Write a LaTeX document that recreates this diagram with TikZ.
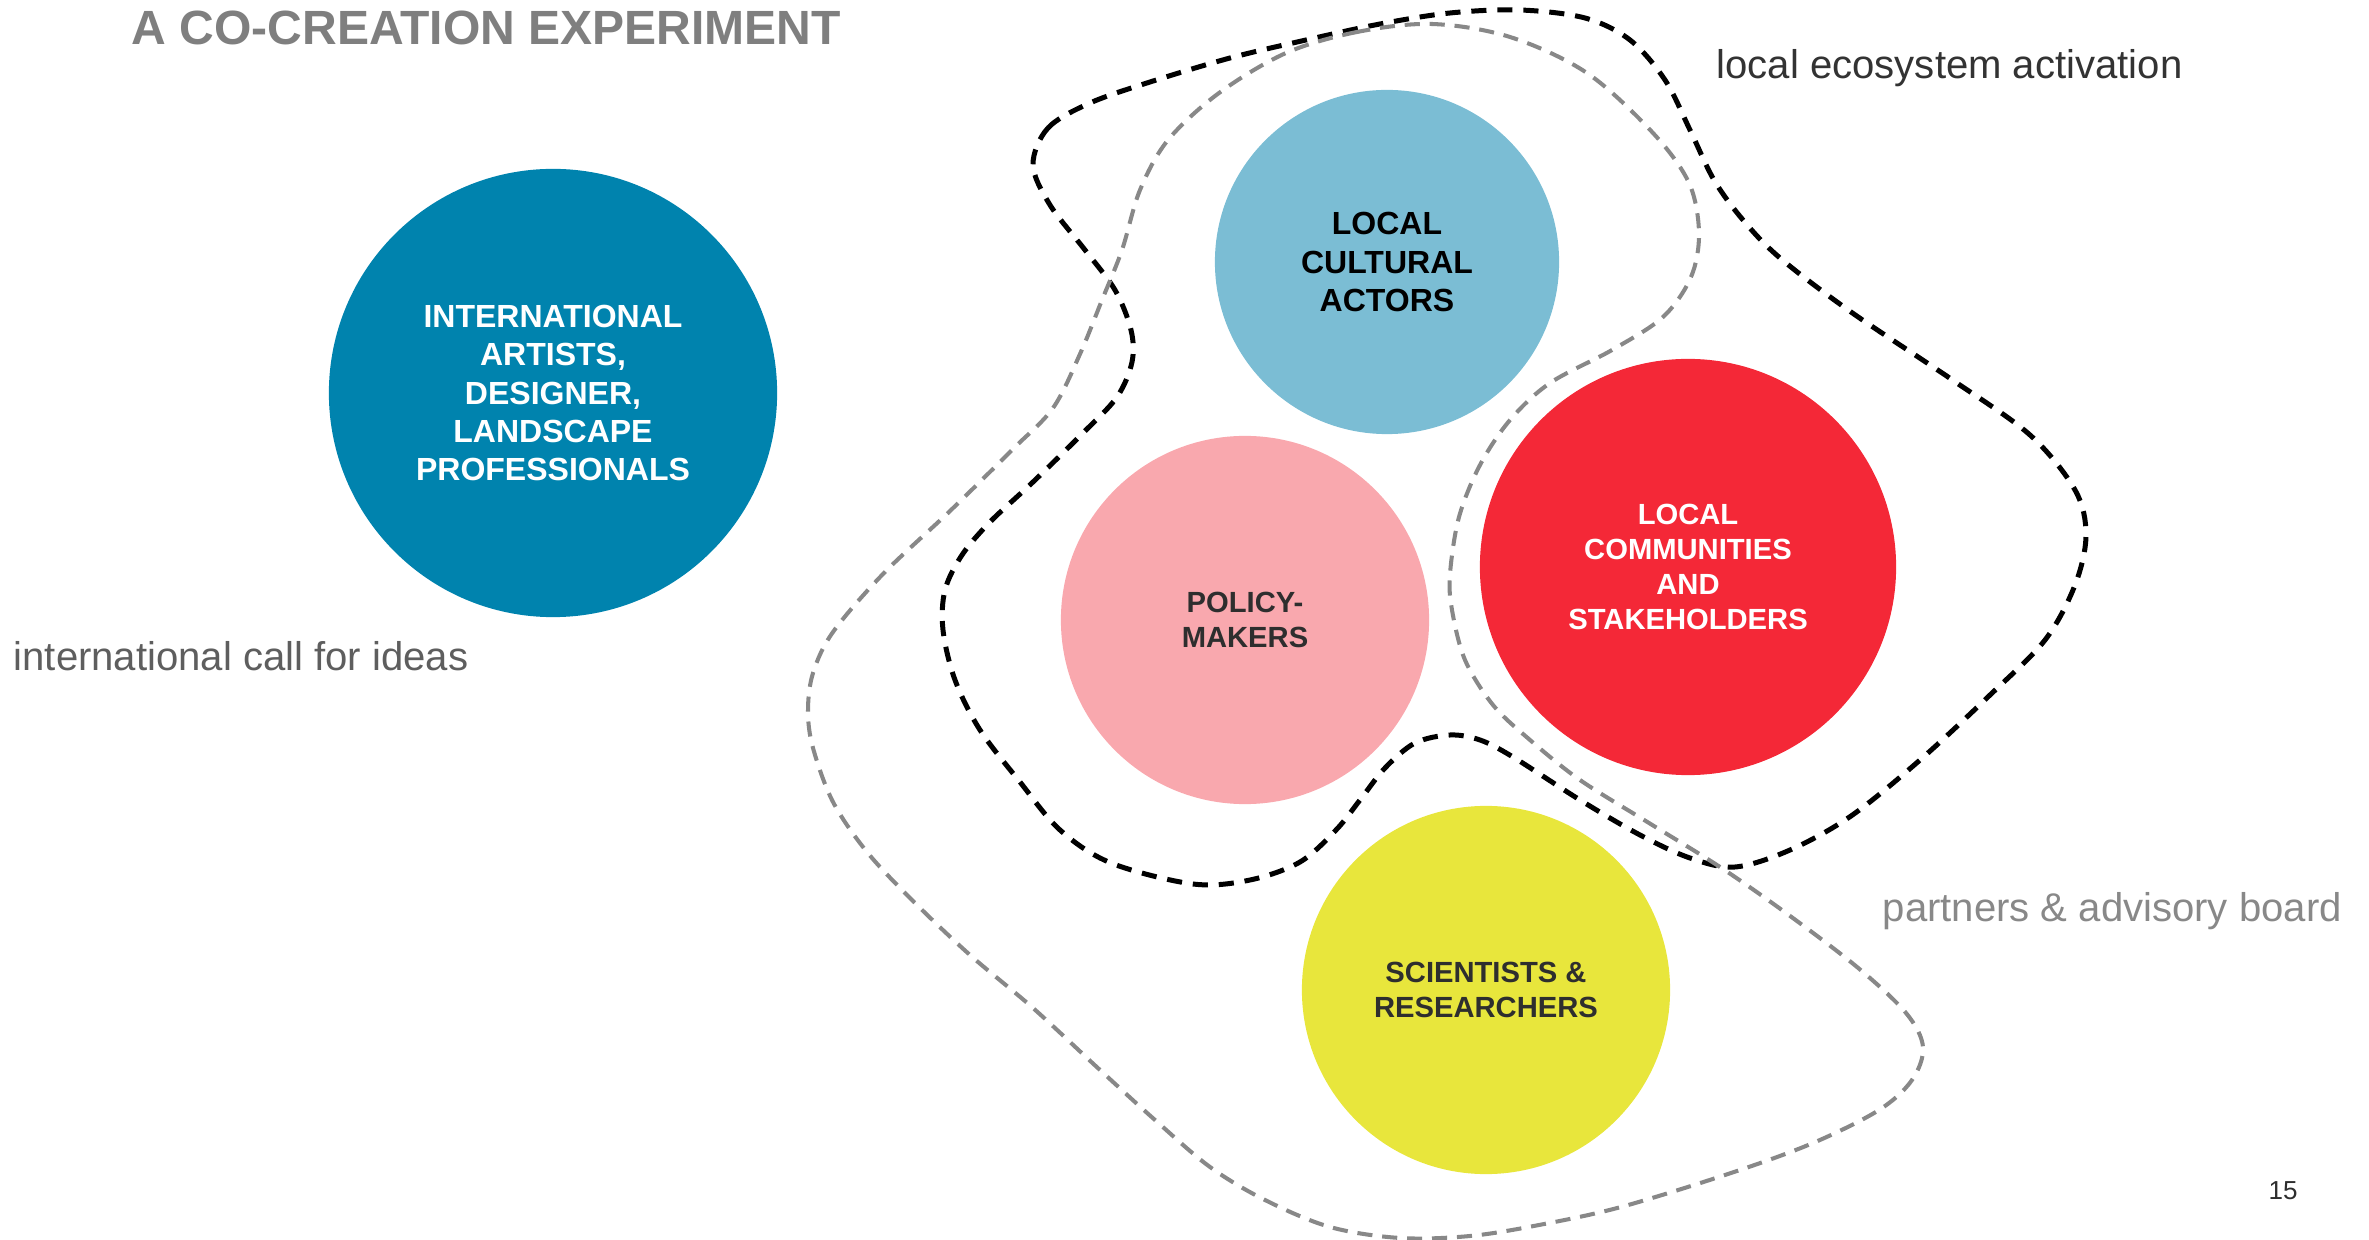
\documentclass[tikz,border=0pt]{standalone}
\usepackage{fontspec}
\setmainfont{Liberation Sans}
\definecolor{cIntl}{HTML}{0083AE}
\definecolor{cCult}{HTML}{7BBDD4}
\definecolor{cPol}{HTML}{F9A8AE}
\definecolor{cComm}{HTML}{F42837}
\definecolor{cSci}{HTML}{E8E63C}
\definecolor{cTitle}{HTML}{7F7F7F}
\definecolor{cCall}{HTML}{5E5E5E}
\definecolor{cEco}{HTML}{333333}
\definecolor{cPart}{HTML}{888888}
\definecolor{cDark}{HTML}{2E2E2E}
\begin{document}
\begin{tikzpicture}[x=0.01cm,y=-0.01cm,
  blob/.style={circle, inner sep=0pt, align=center},
  bigtxt/.style={font=\bfseries\fontsize{9.1pt}{10.9pt}\selectfont},
  smalltxt/.style={font=\bfseries\fontsize{8.3pt}{9.9pt}\selectfont},
  lbl/.style={anchor=base west, inner sep=0pt, font=\fontsize{11.4pt}{13pt}\selectfont},
  ecoline/.style={line width=1.42pt, dash pattern=on 4.3pt off 3.1pt, black},
  partline/.style={line width=1.15pt, dash pattern=on 4.3pt off 2.8pt, cPart}
]
\useasboundingbox (0,0) rectangle (2369,1240);

% circles
\node[blob, bigtxt, minimum size=4.48cm, fill=cIntl, text=white] (intl) at (553,393)
  {INTERNATIONAL\\ARTISTS,\\DESIGNER,\\LANDSCAPE\\PROFESSIONALS};
\node[blob, bigtxt, minimum size=3.44cm, fill=cCult, text=black] (cult) at (1387,262)
  {LOCAL\\CULTURAL\\ACTORS};
\node[blob, smalltxt, minimum size=3.68cm, fill=cPol, text=cDark] (pol) at (1245,620)
  {POLICY-\\MAKERS};
\node[blob, smalltxt, minimum size=4.16cm, fill=cComm, text=white] (comm) at (1688,567)
  {LOCAL\\COMMUNITIES\\AND\\STAKEHOLDERS};
\node[blob, smalltxt, minimum size=3.68cm, fill=cSci, text=cDark] (sci) at (1486,990)
  {SCIENTISTS \&\\RESEARCHERS};

% local ecosystem activation (black dashed)
\draw[ecoline] plot[smooth cycle, tension=0.55] coordinates {
(1033,165) (1048,128) (1090,103) (1150,82) (1230,58) (1306,40) (1380,24) (1450,13)
(1520,10) (1585,18) (1630,40) (1665,80) (1690,130) (1714,180) (1743,220) (1780,258)
(1851,312) (1951,379) (2030,435) (2075,490) (2086,535) (2075,585) (2045,640) (1990,695)
(1920,760) (1851,816) (1790,850) (1735,867) (1690,858) (1640,835) (1580,800) (1513,757)
(1480,740) (1450,735) (1415,743) (1385,768) (1360,800) (1336,830) (1300,862) (1250,880)
(1193,884) (1111,863) (1060,830) (1020,782) (980,730) (955,680) (943,630) (945,590)
(962,555) (990,522) (1033,482) (1083,433) (1117,397) (1132,362) (1131,330) (1115,290)
(1085,250) (1050,205)};

% partners & advisory board (grey dashed)
\draw[partline] plot[smooth cycle, tension=0.55] coordinates {
(1432,24) (1357,32) (1286,53) (1219,93) (1168,140) (1140,190) (1122,250) (1102,300)
(1080,354) (1053,408) (1013,449) (950,511) (883,574) (833,632) (813,673) (808,711)
(813,748) (833,802) (867,852) (913,901) (970,955) (1033,1008) (1100,1070) (1155,1120)
(1210,1167) (1265,1200) (1330,1227) (1400,1238) (1470,1236) (1539,1225) (1621,1207)
(1731,1173) (1813,1143) (1879,1110) (1912,1080) (1923,1047) (1906,1013) (1857,967)
(1786,913) (1720,867) (1649,823) (1580,780) (1530,740) (1493,705) (1465,660) (1452,610)
(1450,574) (1459,517) (1480,465) (1510,420) (1550,383) (1612,350) (1663,317) (1691,277)
(1699,233) (1689,183) (1653,133) (1587,73) (1510,37)};

% texts
\node[anchor=base west, inner sep=0pt, text=cTitle, font=\bfseries\fontsize{13.66pt}{16pt}\selectfont] (title) at (131,45) {A CO-CREATION EXPERIMENT};
\node[lbl, text=cCall] (call) at (13,671) {international call for ideas};
\node[lbl, text=cEco] (eco) at (1716,79) {local ecosystem activation};
\node[lbl, text=cPart] (part) at (1882,922) {partners \& advisory board};
\node[anchor=base west, inner sep=0pt, text=cDark, font=\fontsize{7.4pt}{9pt}\selectfont] (page) at (2268,1199) {15};
\end{tikzpicture}
\end{document}
